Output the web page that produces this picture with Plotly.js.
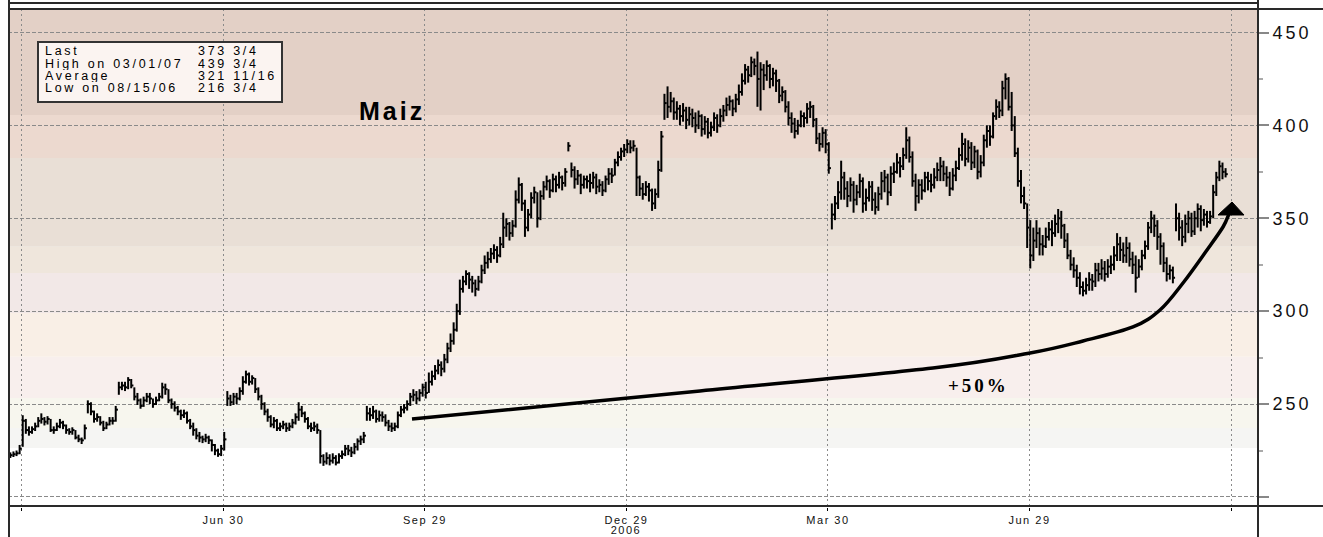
<!DOCTYPE html>
<html><head><meta charset="utf-8">
<script src="https://cdn.plot.ly/plotly-3.0.1.min.js"></script>
<style>
html,body{margin:0;padding:0;background:#fff;}
#chart{width:1323px;height:537px;}
.ytick text{letter-spacing:3px;}
.xtick text{letter-spacing:1.5px;}
.annotation[data-index="0"] text{letter-spacing:3px;}
.annotation[data-index="9"] text{letter-spacing:3px;}
.annotation[data-index="10"] text{letter-spacing:1.5px;}
.annotation[data-index="1"] text,.annotation[data-index="2"] text,.annotation[data-index="3"] text,.annotation[data-index="4"] text,
.annotation[data-index="5"] text,.annotation[data-index="6"] text,.annotation[data-index="7"] text,.annotation[data-index="8"] text{letter-spacing:2.7px;}
</style></head><body><div id="chart"></div><script>
// ---- data (daily bars, trading days from 2006-03-27) ----
const closes = [
222.5,223,223.5,226,241,236,235,236.5,238,241,
242,240.5,242,236,236,238,240,238.5,236,235,
236,232,231,230.5,237,250,246,242,243,240,
237,239,241,241,247,259,260,259,263,260,
254,252,249,252,254,253,250,252,254,259,
258,252,250,248,246,244,245,241,238,236,
233,232,231,232,230.5,228,225,223,226,231,
253,251,254,253,257,262,266,262,264,258,
254,250,246,243,239,241,237,238,239,237,
238,240,243,247,245,242,238,237,238,236,
222,219,221,219.5,221,218.5,222,223,226,225,
224,227,230,231,233,245,244,246,242,244,
243,240,238,237,238,244,247,248,250,254,
255,253,256,259,256,262,265,268,271,269,
274,280,284,290,300,312,316,320,317,315,
312,316,322,326,328,331,333,330,336,345,
347,342,346,360,368,358,345,352,361,364,
350,362,367,370,365,371,368,372,369,375,
389,376,371,373,368,371,370,369,372,367,
368,365,371,374,373,380,383,386,387,390,
388,389,372,366,363,367,365,358,363,376,
394,412,410,413,407,409,405,408,403,406,
404,400,405,398,402,396,399,404,400,405,
408,411,413,409,414,418,424,430,427,434,
432,425,430,427,432,425,428,424,416,418,
410,404,401,397,400,405,404,409,410,403,
393,390,396,390,377,352,358,364,372,366,
362,368,360,364,370,358,361,367,360,356,
363,370,372,364,374,375,380,378,384,392,
383,370,362,368,365,372,370,368,372,376,
378,374,372,366,373,377,384,390,382,388,
380,386,375,380,392,397,394,405,410,408,
420,425,410,400,385,370,362,358,345,330,
338,342,336,335,340,344,342,347,350,346,
338,330,325,322,318,313,311,314,317,316,
322,320,323,320,324,325,330,336,333,330,
334,328,325,318,324,330,335,345,350,346,
340,335,326,320,322,318,350,345,340,347,
350,343,350,355,349,352,348,351,364,372,
378,375,373.75];
const highs = [
224,224.5,225,228,244,242,238,238,240,243,
245,243,243.5,242,238,240,242,241,239,237,
237.5,236,233.5,232,239,252,251,246.5,245,243.5,
241,240.5,243,243,249,262,262,262,264.5,263.5,
259,256,253,254,256,256,253,254,256,261.5,
261,258,253,251.5,249,247,247,246,242,240,
237,235,233,234,233,231,228.5,226,228,235,
257,255,256,256,259,265,268,267,265.5,264,
259,255,251,247.5,244,243,242,240,241,240,
240,242,245,251,249,246,243,240,240.5,239.5,
236,223,224,223,223.5,222.5,223.5,225,228,228,
227,229,231.5,233,235,249,248,249,247,246.5,
246,244.5,241.5,240,240,246,249,250,252,256,
258,257,258,261,262,267,268,271,274,273,
277,283,288,294,304,317,319,322,321,319,
317,319,325,330,332,334,336,335,340,353,
350,348,349,365,372,369,360,355,364,367,
364,365,370,373,371,374,373,375,373,377,
391,380,378,376,374,373,373,374,375,374,
371,370,373,377,377,382,386,388,390,392.5,
392,392,388,373,369,370,369,366,366,381,
397,417,421,418,415,413,411,412,410,410,
409,407,408,406,405,404,402,407,406,409,
411,415,416,414,417,422,428,433,432,437,
436,439.75,434,433,435,433,431,430,425,421,
419,413,407,404,403,408,407,412,413,411,
404,396,399,398,391,358,362,370,381,375,
370,372,370,368,374,372,366,370,370,364,
367,375,376,374,378,380,385,383,388,399,
394,386,374,371,371,375,375,374,377,380,
383,381,378,375,377,381,388,396,393,392,
391,389,387,384,395,400,400,407,414,413,
424,428,426,418,405,388,376,367,358,349,
345,349,345,341,345,348,349,352,355,354,
347,342,333,329,325,321,316,318,321,320,
326,326,328,327,328,330,335,342,340,337,
340,337,332,330,328,333,338,348,354,352,
349,342,337,329,325,324,358,353,349,352,
354,353,354,358,357,355,354,354,368,375,
381,380,377];
const lows = [
221,221.5,222,223,227,234,233,234,235.5,237.5,
239.5,238.5,239,235,234,235.5,237,236.5,234,233.5,
233.5,231,229.5,228.5,231,245,244,240,240.5,238.5,
235.5,236.5,238.5,239,240.5,255,257.5,257,258,258.5,
252,249.5,247.5,248.5,251,250,248,249.5,251.5,253,
255,250.5,247.5,246,244,241.5,242.5,239.5,236.5,233,
231,229.5,229,229.5,228.5,224.5,222.5,221.6,222,225,
249,249,249.5,250,252,255,261,260,260.5,256,
252,247,244,240.5,237.5,237,235.5,235.5,236.5,235,
235.5,237,239,241,243,240,236.5,235,235.5,234,
218,216.75,217.5,217,218,217,218,220.5,222,222.5,
221.5,223,225,228,229,241,241,242,240,240.5,
240.5,238,235.5,235,235.5,237,243,245,246.5,249,
251.5,250,251.5,254,253,256,260,263,266,265,
267,272,278,282,289,298,310,314,312,310,
308,311,315,320,323,326,328,326,329,334,
340,338,340,345,358,354,340,343,350,358,
345,349,360,365,361,364,364,366,365,367,
386,372,366,368,363,366,366,364,366,363,
364,362,364,368,369,373,378,381,383,385,
385,386,362,362,360,362,359,354,355,361,
375,403,404,407,403,403,400,402,398,400,
399,396,398,394,395,393,394,397,396,399,
402,405,408,405,407,411,416,422,423,426,
427,410,408,419,424,420,421,418,412,413,
407,400,396,393,395,399,399,401,404,399,
390,386,388,385,374,344,349,355,360,360,
356,359,353,357,361,353,354,359,354,352,
354,360,364,357,362,369,374,372,376,382,
380,367,354,358,360,364,365,364,366,370,
370,370,367,362,365,370,376,381,378,380,
376,377,371,372,378,388,389,393,403,404,
405,414,408,397,383,367,358,355,334,323,
327,334,330,330,334,338,335,340,342,339,
334,328,322,318,313,309,308,309,311,311,
313,316,317,316,318,320,322,327,327,326,
326,324,320,310,318,322,328,333,342,340,
333,325,321,316,317,315,343,338,335,337,
342,340,341,345,343,346,345,347,350,362,
370,371,372];

const tickDates = ['2006-03-31','2006-06-30','2006-09-29','2006-12-29','2007-03-30','2007-06-29','2007-09-28'];
const tickLabels = ['','Jun 30','Sep 29','Dec 29','Mar 30','Jun 29',''];
const yearLabel = '2006';
const yearLabelDate = '2006-12-29';
const priceTicks = [200,250,300,350,400,450];
const priceLabels = ['','250','300','350','400','450'];
const statLabels = ['Last','High on 03/01/07','Average','Low on 08/15/06'];
const statValues = ['373 3/4','439 3/4','321 11/16','216 3/4'];
const chartTitle = 'Maiz';
const gainLabel = '+50%';
// background price-zone shading (price boundaries, colours)
const bandEdges = [194.6,226.4,237.1,253.3,275.5,299,320.6,334.7,382.5,405.6,462.65];
const bandColors = ['#ffffff','#f5f5f3','#f7f6ee','#f8efed','#f9efe6','#f2e8e7','#efe6dc','#e9dfd6','#ecd9cf','#e3d0c6'];

// ---- build trading-day dates ----
const N = closes.length;
const dates = [];
let t = Date.UTC(2006,2,27);
while (dates.length < N) {
  const d = new Date(t); const wd = d.getUTCDay();
  if (wd !== 0 && wd !== 6) dates.push(d.toISOString().slice(0,10));
  t += 86400000;
}
const bx = [], by = [];
for (let i = 0; i < N; i++) {
  bx.push(dates[i] + ' 06:00', dates[i] + ' 06:00', null);
  by.push(lows[i], highs[i], null);
  bx.push(dates[i] + ' 06:00', dates[i] + ' 23:00', null);
  by.push(closes[i], closes[i], null);
}

const W = 1323, H = 537, ML = 8, MR = 65, MT = 9, MB = 30;
const PW = W - ML - MR, PH = H - MT - MB;
const px = x => (x - ML) / PW;
const py = y => (H - MB - y) / PH;
const yv = y => 450 - (y - 32.5) / 1.858;   // pixel row -> price (for the hand-drawn arrow)

const shapes = [];
for (let k = 0; k < bandColors.length; k++) {
  shapes.push({type:'rect', xref:'paper', yref:'y', x0:0, x1:1, y0:bandEdges[k], y1:bandEdges[k+1],
    fillcolor:bandColors[k], line:{width:0}, layer:'below'});
}
const frame = {color:'#2a2a2a', width:2};
shapes.push({type:'line', xref:'paper', yref:'paper', x0:0, x1:1, y0:py(3), y1:py(3), line:frame});
shapes.push({type:'line', xref:'paper', yref:'paper', x0:0, x1:px(W), y0:1, y1:1, line:frame});
shapes.push({type:'line', xref:'paper', yref:'paper', x0:0, x1:px(W), y0:py(506), y1:py(506), line:frame});
shapes.push({type:'line', xref:'paper', yref:'paper', x0:px(9), x1:px(9), y0:py(0), y1:py(H), line:frame});
shapes.push({type:'line', xref:'paper', yref:'paper', x0:1, x1:1, y0:py(0), y1:py(H), line:frame});
// legend box
shapes.push({type:'rect', xref:'paper', yref:'paper', x0:px(38), x1:px(282), y0:py(102), y1:py(42),
  fillcolor:'#fbf4f1', line:{color:'#333', width:2}});
// +50% arrow: smooth curve (Catmull-Rom) through hand-drawn guide points
const arrowPts = [[412,419],[700,391],[933,368],[1030,353],[1083,341],[1133,327],[1160,310],[1183,283],[1207,250],[1223,227],[1229,214]];
let pth = 'M ' + px(arrowPts[0][0]) + ',' + yv(arrowPts[0][1]);
for (let i = 0; i < arrowPts.length - 1; i++) {
  const p0 = arrowPts[Math.max(i-1,0)], p1 = arrowPts[i], p2 = arrowPts[i+1], p3 = arrowPts[Math.min(i+2, arrowPts.length-1)];
  const c1 = [p1[0] + (p2[0]-p0[0])/6, p1[1] + (p2[1]-p0[1])/6];
  const c2 = [p2[0] - (p3[0]-p1[0])/6, p2[1] - (p3[1]-p1[1])/6];
  pth += ' C ' + px(c1[0]) + ',' + yv(c1[1]) + ' ' + px(c2[0]) + ',' + yv(c2[1]) + ' ' + px(p2[0]) + ',' + yv(p2[1]);
}
shapes.push({type:'path', xref:'paper', yref:'y', path:pth, line:{color:'#000', width:3.5}});
shapes.push({type:'path', xref:'paper', yref:'y',
  path:'M '+px(1218)+','+yv(215)+' L '+px(1244)+','+yv(215)+' L '+px(1232)+','+yv(202)+' Z',
  fillcolor:'#000', line:{color:'#000', width:1}});

const annotations = [];
annotations.push({xref:'paper', yref:'paper', x:px(392), y:py(111), text:chartTitle, showarrow:false,
  xanchor:'center', yanchor:'middle', font:{family:'Liberation Sans, Arial', size:25, color:'#000', weight:'bold'}});
for (let k = 0; k < 4; k++) {
  annotations.push({xref:'paper', yref:'paper', x:px(43), y:py(51.5 + 12.3*k), text:statLabels[k], showarrow:false,
    xanchor:'left', align:'left', yanchor:'middle', width:150, height:12, valign:'middle',
    font:{family:'Liberation Sans, Arial', size:12.5, color:'#000'}});
}
for (let k = 0; k < 4; k++) {
  annotations.push({xref:'paper', yref:'paper', x:px(196), y:py(51.5 + 12.3*k), text:statValues[k], showarrow:false,
    xanchor:'left', align:'left', yanchor:'middle', width:84, height:12, valign:'middle',
    font:{family:'Liberation Sans, Arial', size:12.5, color:'#000'}});
}
annotations.push({xref:'paper', yref:'paper', x:px(946), y:py(385), text:gainLabel, showarrow:false,
  xanchor:'left', align:'left', yanchor:'middle', font:{family:'Liberation Serif, Times New Roman', size:19, color:'#000', weight:'bold'}});
annotations.push({xref:'x', yref:'paper', x:yearLabelDate, y:py(530), text:yearLabel, showarrow:false,
  xanchor:'center', yanchor:'middle', width:44, height:14, font:{family:'Liberation Sans, Arial', size:11, color:'#111'}});

const trace = {type:'scatter', mode:'lines', x:bx, y:by, line:{color:'#000', width:2}, hoverinfo:'skip', connectgaps:false};

const layout = {
  width:W, height:H, margin:{l:ML, r:MR, t:MT, b:MB},
  paper_bgcolor:'#fff', plot_bgcolor:'#fff', showlegend:false,
  xaxis:{type:'date', range:['2006-03-24 12:00','2007-10-10 17:00'], rangebreaks:[{bounds:['sat','mon']}],
    tickmode:'array', tickvals:tickDates, ticktext:tickLabels, showgrid:true, gridcolor:'#8a8a8a', griddash:'2px,3px', gridwidth:1,
    ticks:'outside', ticklen:3, tickcolor:'#000', tickwidth:1, showline:false, zeroline:false,
    tickfont:{family:'Liberation Sans, Arial', size:11, color:'#111'}},
  yaxis:{side:'right', range:[194.6,462.65], tickmode:'array', tickvals:priceTicks, ticktext:priceLabels,
    showgrid:true, gridcolor:'#8a8a8a', griddash:'4px,2px', gridwidth:1, ticks:'outside', ticklen:10, tickcolor:'#888', tickwidth:2,
    showline:false, zeroline:false, tickfont:{family:'Liberation Sans, Arial', size:18, color:'#111'},
    minor:{tickmode:'array', tickvals:[225,275,325,375,425], ticks:'outside', ticklen:4, tickcolor:'#aaa', showgrid:false}},
  shapes:shapes, annotations:annotations
};
Plotly.newPlot('chart', [trace], layout, {staticPlot:true, displayModeBar:false});
</script></body></html>
